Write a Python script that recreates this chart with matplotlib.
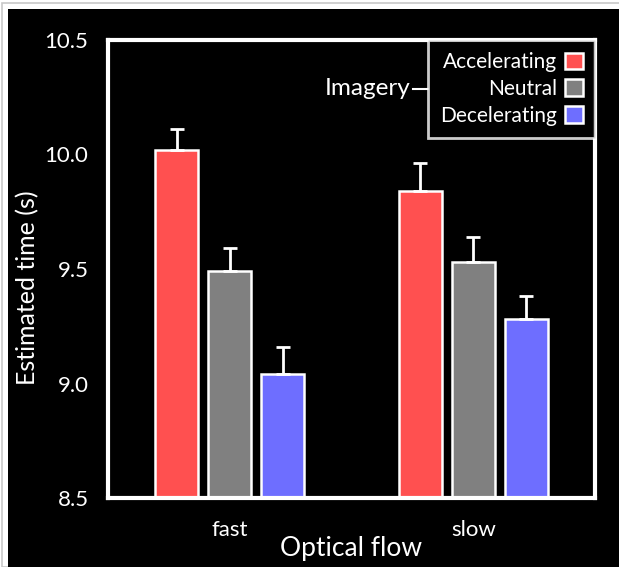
import numpy as np
import matplotlib.pyplot as plt
from matplotlib.patches import Rectangle

flows = ['fast', 'slow']
conditions = ['Accelerating', 'Neutral', 'Decelerating']
colors = ['#ff5050', '#808080', '#6e6eff']
means = {
    'Accelerating': [10.02, 9.84],
    'Neutral': [9.49, 9.53],
    'Decelerating': [9.04, 9.28],
}
errs = {
    'Accelerating': [0.09, 0.125],
    'Neutral': [0.10, 0.11],
    'Decelerating': [0.12, 0.10],
}

plt.rcParams['font.family'] = ['Lato', 'DejaVu Sans']

fig = plt.figure(figsize=(6.19, 5.67), dpi=100, facecolor='white')
# black canvas with thin light margin on left/top like the screenshot
fig.patches.append(Rectangle((8/619, 0), 1, 1 - 9/567, transform=fig.transFigure,
                             facecolor='black', edgecolor='none', zorder=-10))
fig.patches.append(Rectangle((2/619, 0), 1, 1 - 3/567, transform=fig.transFigure,
                             facecolor='none', edgecolor='#c8c8c8', linewidth=1.2, zorder=-11))

ax = fig.add_axes([108/619, 1 - 498/567, (595 - 108)/619, (498 - 40)/567])
ax.set_facecolor('black')

x = np.arange(len(flows))
step = 0.218
width = 0.177
for i, cond in enumerate(conditions):
    pos = x + (i - 1) * step
    ax.bar(pos, np.array(means[cond]) - 8.5, width, bottom=8.5, color=colors[i],
           edgecolor='white', linewidth=1.8, label=cond, zorder=2)
    ax.errorbar(pos, means[cond], yerr=[np.zeros(2), errs[cond]], fmt='none',
                ecolor='white', elinewidth=2, capsize=5, capthick=2, zorder=3)

ax.set_xlim(-0.5, 1.5)
ax.set_ylim(8.5, 10.5)
ax.set_yticks([8.5, 9.0, 9.5, 10.0, 10.5])
ax.set_yticklabels(['8.5', '9.0', '9.5', '10.0', '10.5'])
ax.set_xticks(x)
ax.set_xticklabels(flows)
ax.tick_params(length=0, labelsize=16, colors='white')
ax.tick_params(axis='y', pad=14)
ax.tick_params(axis='x', pad=16)
for s in ax.spines.values():
    s.set_color('white')
    s.set_linewidth(3)

ax.set_ylabel('Estimated time (s)', fontsize=18, color='white')
ax.yaxis.set_label_coords(-0.142, 0.46)
ax.set_xlabel('Optical flow', fontsize=19, color='white', labelpad=-3)

leg = ax.legend(loc='upper right', bbox_to_anchor=(1.0, 1.0), markerfirst=False,
                frameon=True, fancybox=False, fontsize=15, handlelength=0.85,
                handleheight=0.85, handletextpad=0.4, labelspacing=0.33,
                borderpad=0.58, borderaxespad=0, labelcolor='white')
leg.get_frame().set_facecolor('black')
leg.get_frame().set_edgecolor('white')
leg.get_frame().set_linewidth(2)
for t in leg.get_texts():
    t.set_ha('right')

fig.canvas.draw()
bb = leg.get_window_extent().transformed(ax.transAxes.inverted())
ymid = (bb.y0 + bb.y1) / 2
ax.plot([bb.x0 - 0.03, bb.x0], [ymid, ymid], color='white', linewidth=1.5,
        transform=ax.transAxes, clip_on=False, zorder=5)
ax.text(bb.x0 - 0.035, ymid, 'Imagery', transform=ax.transAxes, ha='right',
        va='center', fontsize=17.5, color='white')

fig.savefig('out.png', dpi=100, facecolor=fig.get_facecolor())
